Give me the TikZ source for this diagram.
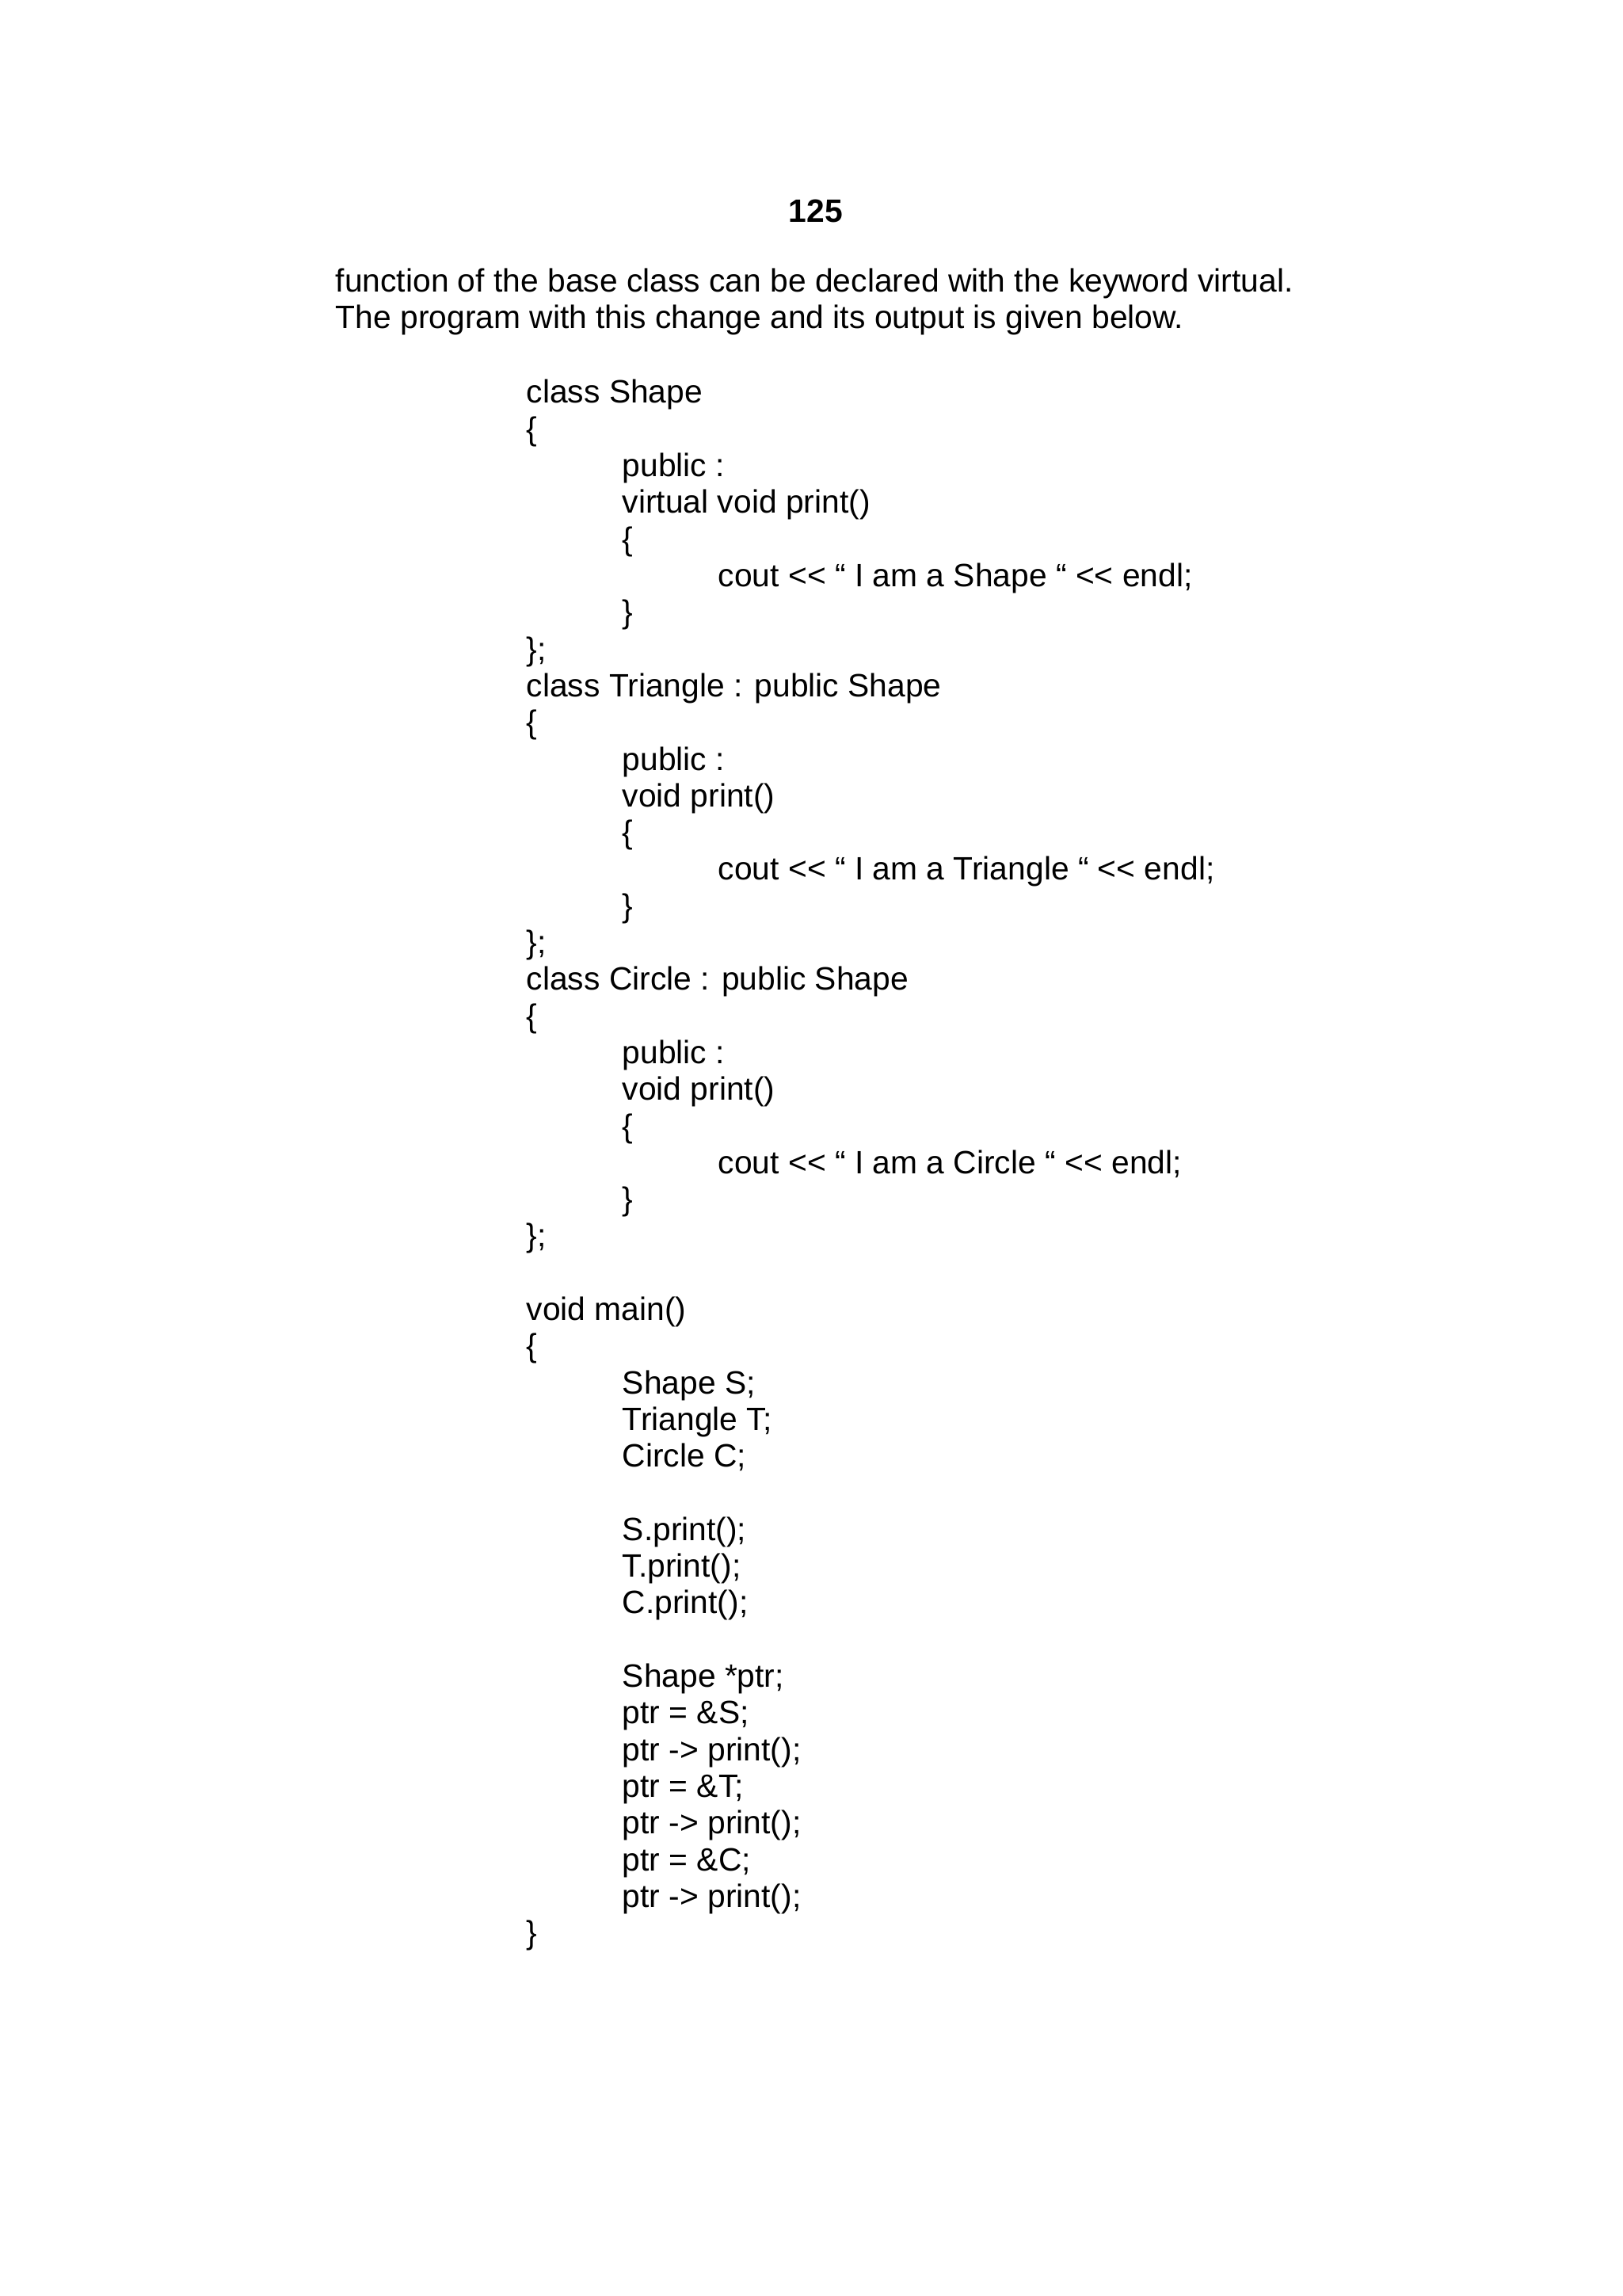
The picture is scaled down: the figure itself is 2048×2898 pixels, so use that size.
\documentclass[tikz,border=0pt]{standalone}
\usepackage{fontspec}
\setmainfont{Liberation Sans}
\begin{document}
\begin{tikzpicture}[x=0.25pt,y=-0.25pt,
  txt/.style={anchor=base west,inner sep=0pt,font=\fontsize{10.2}{12}\selectfont}]
\useasboundingbox (0,0) rectangle (2048,2898);
\newcommand\codeln[4]{\node[txt] (#1) at ({664+#3*121},{509+#2*46.3}) {#4};}
\node[txt,anchor=base,font=\fontsize{10.2}{12}\selectfont\bfseries] (pg) at (1030,281) {125};
\node[txt] (p1) at (423,369) {function of the base class can be declared with the keyword virtual.};
\node[txt] (p2) at (423,415) {The program with this change and its output is given below.};
\codeln{a0}{0}{0}{class Shape}
\codeln{a1}{1}{0}{\{}
\codeln{a2}{2}{1}{public :}
\codeln{a3}{3}{1}{virtual void print()}
\codeln{a4}{4}{1}{\{}
\codeln{a5}{5}{2}{cout <{}< “ I am a Shape “ <{}< endl;}
\codeln{a6}{6}{1}{\}}
\codeln{a7}{7}{0}{\};}
\codeln{a8}{8}{0}{class Triangle : public Shape}
\codeln{a9}{9}{0}{\{}
\codeln{a10}{10}{1}{public :}
\codeln{a11}{11}{1}{void print()}
\codeln{a12}{12}{1}{\{}
\codeln{a13}{13}{2}{cout <{}< “ I am a Triangle “ <{}< endl;}
\codeln{a14}{14}{1}{\}}
\codeln{a15}{15}{0}{\};}
\codeln{a16}{16}{0}{class Circle : public Shape}
\codeln{a17}{17}{0}{\{}
\codeln{a18}{18}{1}{public :}
\codeln{a19}{19}{1}{void print()}
\codeln{a20}{20}{1}{\{}
\codeln{a21}{21}{2}{cout <{}< “ I am a Circle “ <{}< endl;}
\codeln{a22}{22}{1}{\}}
\codeln{a23}{23}{0}{\};}
\codeln{a25}{25}{0}{void main()}
\codeln{a26}{26}{0}{\{}
\codeln{a27}{27}{1}{Shape S;}
\codeln{a28}{28}{1}{Triangle T;}
\codeln{a29}{29}{1}{Circle C;}
\codeln{a31}{31}{1}{S.print();}
\codeln{a32}{32}{1}{T.print();}
\codeln{a33}{33}{1}{C.print();}
\codeln{a35}{35}{1}{Shape *ptr;}
\codeln{a36}{36}{1}{ptr = \&S;}
\codeln{a37}{37}{1}{ptr -> print();}
\codeln{a38}{38}{1}{ptr = \&T;}
\codeln{a39}{39}{1}{ptr -> print();}
\codeln{a40}{40}{1}{ptr = \&C;}
\codeln{a41}{41}{1}{ptr -> print();}
\codeln{a42}{42}{0}{\}}
\end{tikzpicture}
\end{document}
